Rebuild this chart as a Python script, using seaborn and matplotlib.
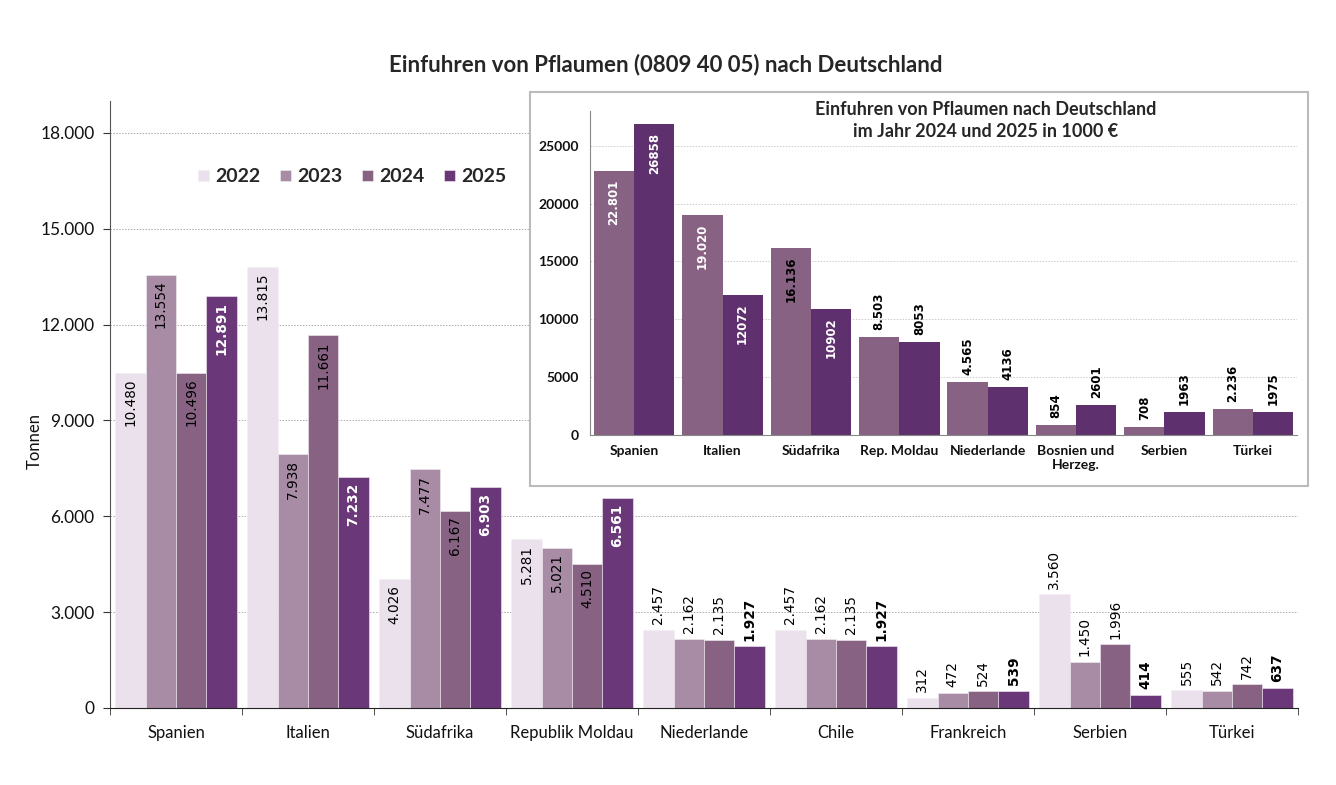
import pandas as pd
import matplotlib.pyplot as plt
import seaborn as sns
from matplotlib.patches import Rectangle
from matplotlib.ticker import FuncFormatter

# main chart: imports in tonnes
countries = ["Spanien", "Italien", "Südafrika", "Republik Moldau", "Niederlande",
             "Chile", "Frankreich", "Serbien", "Türkei"]
years = ["2022", "2023", "2024", "2025"]
t2022 = [10480, 13815, 4026, 5281, 2457, 2457, 312, 3560, 555]
t2023 = [13554, 7938, 7477, 5021, 2162, 2162, 472, 1450, 542]
t2024 = [10496, 11661, 6167, 4510, 2135, 2135, 524, 1996, 742]
t2025 = [12891, 7232, 6903, 6561, 1927, 1927, 539, 414, 637]

# inset: value in 1000 EUR
inset_countries = ["Spanien", "Italien", "Südafrika", "Rep. Moldau", "Niederlande",
                   "Bosnien und\nHerzeg.", "Serbien", "Türkei"]
inset_years = ["2024", "2025"]
eur2024 = [22801, 19020, 16136, 8503, 4565, 854, 708, 2236]
eur2025 = [26858, 12072, 10902, 8053, 4136, 2601, 1963, 1975]

main_colors = {"2022": "#EBE1EC", "2023": "#A88BA5", "2024": "#876283", "2025": "#6A3878"}
inset_colors = {"2024": "#876283", "2025": "#5E306E"}

df = pd.DataFrame({"Land": countries * 4,
                   "Jahr": sum([[y] * len(countries) for y in years], []),
                   "Tonnen": t2022 + t2023 + t2024 + t2025})
df_in = pd.DataFrame({"Land": inset_countries * 2,
                      "Jahr": sum([[y] * len(inset_countries) for y in inset_years], []),
                      "Wert": eur2024 + eur2025})


def de(v):
    return f"{v:,}".replace(",", ".")


sns.set_style("white")
plt.rcParams["font.family"] = ["Lato", "DejaVu Sans"]

fig = plt.figure(figsize=(13.36, 7.85), dpi=100)
ax = fig.add_axes([110 / 1336, 77 / 785, 1188 / 1336, 607 / 785])
ax.set_zorder(0)

sns.barplot(data=df, x="Land", y="Tonnen", hue="Jahr", order=countries, hue_order=years,
            palette=main_colors, width=0.92, gap=0, saturation=1, ax=ax,
            edgecolor="#F4EEF4", linewidth=0.4)

ax.set_xlim(-0.5, len(countries) - 0.5)
ax.set_ylim(0, 19000)
ax.set_yticks(range(0, 18001, 3000))
ax.yaxis.set_major_formatter(FuncFormatter(lambda v, p: de(int(v))))
ax.grid(axis="y", color="#AAAAAA", linestyle=(0, (1.5, 1.5)), linewidth=0.7)
ax.set_axisbelow(True)
for s in ["top", "right"]:
    ax.spines[s].set_visible(False)
ax.spines["left"].set_color("#555555")
ax.spines["bottom"].set_color("#222222")
ax.tick_params(axis="y", left=True, length=5, color="#333333", labelsize=12.5, pad=6,
               labelcolor="#111111")
ax.set_xticks(range(len(countries)))
ax.set_xticklabels(countries, fontsize=12)
ax.tick_params(axis="x", bottom=False, pad=9, labelcolor="#111111")
ax.set_xticks([i - 0.5 for i in range(len(countries) + 1)], minor=True)
ax.tick_params(axis="x", which="minor", bottom=True, length=5, color="#333333")
ax.set_xlabel("")
ax.set_ylabel("Tonnen", fontsize=12, color="#111111")
ax.yaxis.set_label_coords(-0.057, 0.44)

for year, cont in zip(years, ax.containers):
    for bar in cont:
        v = int(round(bar.get_height()))
        x = bar.get_x() + bar.get_width() / 2
        bold = year == "2025"
        if v >= 4000:
            ax.annotate(de(v), (x, v), xytext=(0, -4), textcoords="offset points",
                        rotation=90, ha="center", va="top", fontsize=9.8,
                        family="DejaVu Sans", fontweight="bold" if bold else "normal",
                        color="white" if bold else "black")
        else:
            ax.annotate(de(v), (x, v), xytext=(0, 4), textcoords="offset points",
                        rotation=90, ha="center", va="bottom", fontsize=9.8,
                        family="DejaVu Sans", fontweight="bold" if bold else "normal",
                        color="black")

handles, labels = ax.get_legend_handles_labels()
ax.legend(handles, labels, ncol=4, frameon=False, loc="center", bbox_to_anchor=(0.204, 0.875),
          prop={"weight": "bold", "size": 14}, handlelength=0.55, handleheight=0.55,
          handletextpad=0.35, columnspacing=1.0)

fig.text(666 / 1336, 1 - 65 / 785, "Einfuhren von Pflaumen (0809 40 05) nach Deutschland",
         ha="center", va="center", fontsize=16, fontweight="bold")

# inset frame
box = Rectangle((530 / 1336, 1 - 486 / 785), 778 / 1336, 394 / 785, transform=fig.transFigure,
                facecolor="white", edgecolor="#BBBBBB", linewidth=1.5, zorder=1)
fig.add_artist(box)

ax2 = fig.add_axes([590 / 1336, 1 - 435 / 785, 707 / 1336, 324 / 785])
ax2.set_zorder(2)
sns.barplot(data=df_in, x="Land", y="Wert", hue="Jahr", order=inset_countries,
            hue_order=inset_years, palette=inset_colors, width=0.91, gap=0, saturation=1,
            ax=ax2, legend=False, linewidth=0)
ax2.set_xlim(-0.5, len(inset_countries) - 0.5)
ax2.set_ylim(0, 28000)
ax2.set_yticks(range(0, 25001, 5000))
ax2.grid(axis="y", color="#CCCCCC", linestyle=(0, (1.5, 1.5)), linewidth=0.7)
ax2.set_axisbelow(True)
for s in ["top", "right"]:
    ax2.spines[s].set_visible(False)
ax2.spines["left"].set_color("#888888")
ax2.spines["bottom"].set_color("#888888")
ax2.tick_params(axis="both", length=0, labelsize=10, labelcolor="#111111")
ax2.tick_params(axis="y", pad=8)
ax2.tick_params(axis="x", pad=7)
for lab in ax2.get_xticklabels() + ax2.get_yticklabels():
    lab.set_fontweight("bold")
ax2.set_xlabel("")
ax2.set_ylabel("")
ax2.text(0.559, 1.03, "Einfuhren von Pflaumen nach Deutschland\nim Jahr 2024 und 2025 in 1000 €",
         transform=ax2.transAxes, ha="center", va="top", fontsize=13, fontweight="bold",
         linespacing=1.35)

dark_inside = {("Südafrika", "2024")}
for year, cont in zip(inset_years, ax2.containers):
    for land, bar in zip(inset_countries, cont):
        v = int(round(bar.get_height()))
        x = bar.get_x() + bar.get_width() / 2
        txt = de(v) if year == "2024" else str(v)
        if v >= 10000:
            col = "black" if (land, year) in dark_inside else "white"
            ax2.annotate(txt, (x, v), xytext=(0, -6), textcoords="offset points", rotation=90,
                         ha="center", va="top", fontsize=8.5, family="DejaVu Sans",
                         fontweight="bold", color=col)
        else:
            ax2.annotate(txt, (x, v), xytext=(0, 5), textcoords="offset points", rotation=90,
                         ha="center", va="bottom", fontsize=8.5, family="DejaVu Sans",
                         fontweight="bold", color="black")

fig.savefig("out.png", dpi=100)
